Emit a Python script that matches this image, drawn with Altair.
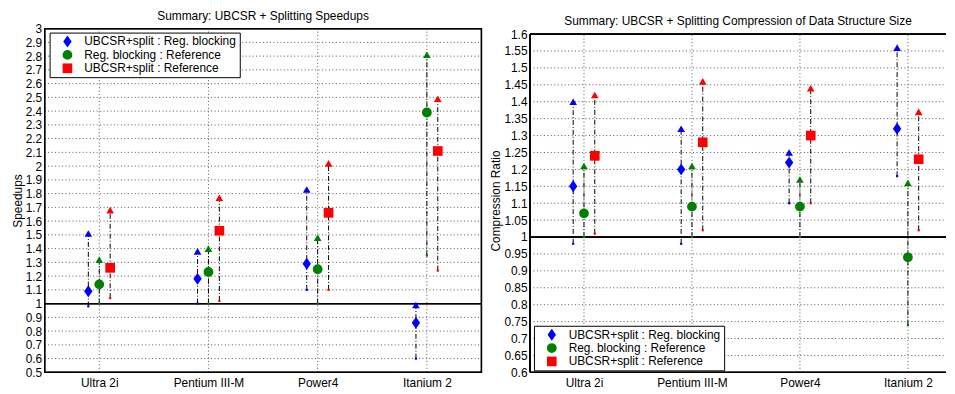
import json
import altair as alt
import pandas as pd

categories = ["Ultra 2i", "Pentium III-M", "Power4", "Itanium 2"]
series = ["UBCSR+split : Reg. blocking", "Reg. blocking : Reference", "UBCSR+split : Reference"]
series_colors = ["#0000ff", "#008000", "#ff0000"]
series_shapes = ["M0,-1.2L0.85,0L0,1.2L-0.85,0Z", "circle", "square"]
series_sizes = [100, 95, 64]
series_offsets = [-0.1, 0.0, 0.1]

# Speedups (typical marker, max triangle, min dot), per series over categories
speed_typ = [[1.09, 1.18, 1.29, 0.86], [1.14, 1.23, 1.25, 2.39], [1.26, 1.53, 1.66, 2.11]]
speed_max = [[1.51, 1.38, 1.83, 0.99], [1.32, 1.40, 1.48, 2.81], [1.68, 1.77, 2.02, 2.49]]
speed_min = [[0.98, 1.00, 1.10, 0.60], [1.00, 1.00, 1.00, 1.35], [1.04, 1.02, 1.10, 1.24]]

# Compression ratio
comp_typ = [[1.15, 1.20, 1.22, 1.32], [1.07, 1.09, 1.09, 0.94], [1.24, 1.28, 1.30, 1.23]]
comp_max = [[1.40, 1.32, 1.25, 1.56], [1.21, 1.21, 1.17, 1.16], [1.42, 1.46, 1.44, 1.37]]
comp_min = [[0.98, 0.98, 1.10, 1.18], [1.00, 1.00, 1.00, 0.74], [1.01, 1.02, 1.10, 1.02]]

speed_ticks = [round(0.5 + 0.1 * i, 2) for i in range(26)]
comp_ticks = [round(0.6 + 0.05 * i, 2) for i in range(21)]

FONT = "Liberation Sans"
GRID = "#555555"


def make_df(typ, mx, mn):
    rows = []
    for si, s in enumerate(series):
        for ci in range(len(categories)):
            rows.append({
                "x": ci + 1 + series_offsets[si],
                "typ": typ[si][ci], "hi": mx[si][ci], "lo": mn[si][ci],
                "series": s, "col": series_colors[si],
            })
    return pd.DataFrame(rows)


def panel(typ, mx, mn, xdom, ydom, yticks, yfmt, width, height, title, ytitle,
          legx, legy, frame_top, title_dy, full_frame):
    df = make_df(typ, mx, mn)
    xs = alt.Scale(domain=xdom, nice=False, zero=False)
    ys = alt.Scale(domain=ydom, nice=False, zero=False)
    label_expr = json.dumps(categories) + "[datum.value - 1]"
    xax = alt.Axis(values=[1, 2, 3, 4], labelExpr=label_expr, title=None, grid=False,
                   labelOverlap=False)
    yax = alt.Axis(values=yticks, format=yfmt, title=ytitle, grid=False, labelOverlap=False,
                   labelFlush=False, labelBound=False)
    X = lambda f: alt.X(f, scale=xs, axis=xax)
    Y = lambda f: alt.Y(f, scale=ys, axis=yax)
    base = alt.Chart(df)
    cat_df = pd.DataFrame({"x": [1, 2, 3, 4], "ylo": [ydom[0]] * 4, "yhi": [frame_top] * 4})
    tick_df = pd.DataFrame({"t": yticks, "xa": [xdom[0]] * len(yticks), "xb": [xdom[1]] * len(yticks)})
    vgrid = alt.Chart(cat_df).mark_rule(color=GRID, strokeDash=[1, 2.5], strokeWidth=1).encode(
        x=X("x:Q"), y=Y("ylo:Q"), y2="yhi:Q")
    hgrid = alt.Chart(tick_df).mark_rule(color=GRID, strokeDash=[1, 2.5], strokeWidth=1).encode(
        y=Y("t:Q"), x=X("xa:Q"), x2="xb:Q")
    one = alt.Chart(cat_df).mark_rule(color="black", strokeWidth=1.2).encode(
        y=alt.YDatum(datum=1.0, scale=ys, axis=yax))
    whisk = base.mark_rule(color="black", strokeDash=[5, 2, 1, 2], strokeWidth=1).encode(
        x=X("x:Q"), y=Y("lo:Q"), y2="hi:Q")
    tri = base.mark_point(shape="triangle-up", filled=True, size=60, opacity=1).encode(
        x=X("x:Q"), y=Y("hi:Q"), color=alt.Color("col:N", scale=None))
    dots = base.mark_square(size=5, opacity=1).encode(
        x=X("x:Q"), y=Y("lo:Q"), color=alt.Color("col:N", scale=None))
    leg = alt.Legend(title=None, orient="none", legendX=legx, legendY=legy)
    main = base.mark_point(filled=True, opacity=1).encode(
        x=X("x:Q"), y=Y("typ:Q"),
        color=alt.Color("series:N", scale=alt.Scale(domain=series, range=series_colors), legend=leg),
        shape=alt.Shape("series:N", scale=alt.Scale(domain=series, range=series_shapes), legend=leg),
        size=alt.Size("series:N", scale=alt.Scale(domain=series, range=series_sizes), legend=None),
    )
    xd0 = alt.XDatum(datum=xdom[0], scale=xs, axis=xax)
    xd1 = alt.X2Datum(datum=xdom[1])
    yd0 = alt.YDatum(datum=ydom[0], scale=ys, axis=yax)
    ydt = alt.YDatum(datum=frame_top, scale=ys, axis=yax)
    if full_frame:
        frame = alt.Chart(cat_df).mark_rect(filled=False, stroke="black", strokeWidth=1.2).encode(
            x=xd0, x2=xd1, y=yd0, y2=alt.Y2Datum(datum=frame_top))
        frames = [frame]
    else:
        f_top = alt.Chart(cat_df).mark_rule(color="black", strokeWidth=1.2).encode(
            y=ydt, x=xd0, x2=xd1)
        f_bot = alt.Chart(cat_df).mark_rule(color="black", strokeWidth=1.2).encode(
            y=yd0, x=xd0, x2=xd1)
        f_left = alt.Chart(cat_df).mark_rule(color="black", strokeWidth=1.2).encode(
            x=xd0, y=yd0, y2=alt.Y2Datum(datum=frame_top))
        frames = [f_top, f_bot, f_left]
    layer = alt.layer(vgrid, hgrid, one, whisk, tri, dots, main, *frames).properties(
        width=width, height=height,
        title=alt.TitleParams(title, fontSize=12, font=FONT, fontWeight="normal",
                              color="black", anchor="middle", offset=0, dy=title_dy),
    )
    return layer


left = panel(speed_typ, speed_max, speed_min, [0.5, 4.5], [0.5, 3.0], speed_ticks, ".1~f",
             441, 347, "Summary: UBCSR + Splitting Speedups", "Speedups", 5, 4, 3.0, 0, True)
right = panel(comp_typ, comp_max, comp_min, [0.5, 4.353], [0.6, 1.6161], comp_ticks, ".2~f",
              420, 347, "Summary: UBCSR + Splitting Compression of Data Structure Size",
              "Compression Ratio", 4, 300, 1.6, 0, False)

chart = alt.hconcat(left, right, spacing=7).resolve_scale(
    color="independent", shape="independent", size="independent", x="independent", y="independent"
).resolve_legend(color="independent", shape="independent").configure_view(
    stroke=None
).configure_axis(
    domain=False, ticks=False, labelFont=FONT, labelFontSize=12, labelColor="black",
    titleFont=FONT, titleFontSize=12, titleFontWeight="normal", titleColor="black",
    labelOverlap=False
).configure_axisX(
    labelPadding=5
).configure_axisY(
    labelPadding=3, titlePadding=1
).configure_legend(
    strokeColor="black", fillColor="white", padding=3, labelFontSize=12, labelFont=FONT,
    labelColor="black", symbolOffset=9, rowPadding=1.5, symbolSize=80, labelLimit=400,
    symbolStrokeWidth=0, labelOffset=11
).properties(
    padding={"left": 3, "top": 0, "right": 0, "bottom": 0}, background="white")

chart.save("out.html", embed_options={"renderer": "svg", "actions": False})
